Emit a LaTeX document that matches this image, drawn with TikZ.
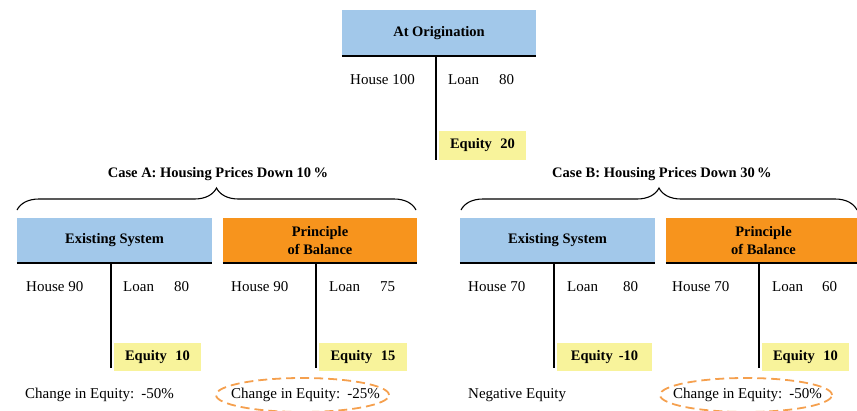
\documentclass[tikz,border=0pt]{standalone}
\usepackage{fontspec}
\setmainfont{Liberation Serif}
\usetikzlibrary{shapes.geometric,decorations.pathreplacing}
\definecolor{hdrblue}{HTML}{A2C8EA}
\definecolor{hdrorange}{HTML}{F7941D}
\definecolor{eqyellow}{HTML}{F8F39B}
\definecolor{ringorange}{HTML}{F5A04E}
\newcommand{\fsz}{\fontsize{14.5}{17.5}\selectfont}
\newcommand{\bodysz}{\fontsize{15}{18}\selectfont}
\tikzset{
  hdr/.style={minimum width=195pt, minimum height=45pt, inner sep=0pt,
              font=\bfseries\fsz, align=center},
  tbar/.style={line width=2.5pt},
  tstem/.style={line width=2.8pt},
  eqbox/.style={fill=eqyellow, minimum width=87pt, minimum height=28pt,
                inner sep=0pt, font=\bfseries\fsz},
  lbl/.style={font=\bodysz, inner sep=0pt, anchor=west},
  casehd/.style={font=\bfseries\fsz, inner sep=0pt},
  casebrace/.style={decorate, decoration={brace, amplitude=22pt}, line width=1.1pt},
  ring/.style={ellipse, draw=ringorange, dashed, dash pattern=on 9pt off 5pt,
               line width=1.8pt, minimum width=173pt, minimum height=34pt, inner sep=0pt}
}
\begin{document}
\begin{tikzpicture}[x=1pt,y=-1pt]
\useasboundingbox (0,0) rectangle (857,410);

% ---- at origination ----
\node[hdr, fill=hdrblue, minimum width=194pt, minimum height=46pt] (orig) at (439,33) {At Origination};
\draw[tbar] (orig.south west) -- (orig.south east);
\coordinate (so) at (436,56);
\coordinate (eo) at (436,160);
\draw[tstem] (so) -- (eo);
\node[eqbox, minimum height=29pt] (eqo) at (482.5,145.5) {Equity\hspace{8.5pt}20};
\node[lbl] (ho) at (350,80) {House 100};
\node[lbl] (lo) at (448,80) {Loan\hspace{20pt}80};

% ---- case headings and braces ----
\node[casehd] (ca) at (218,174) {Case A: Housing Prices Down 10\,\%};
\node[casehd] (cb) at (662,174) {Case B: Housing Prices Down 30\,\%};
\coordinate (bal) at (17,210);
\coordinate (bar) at (416,210);
\coordinate (bbl) at (461,210);
\coordinate (bbr) at (857,210);
\draw[casebrace] (bal) -- (bar);
\draw[casebrace] (bbl) -- (bbr);

% ---- case A, existing system ----
\node[hdr, fill=hdrblue] (a1) at (114.5,240.5) {Existing System};
\draw[tbar] (a1.south west) -- (a1.south east);
\coordinate (sa1) at (111,263);
\coordinate (ea1) at (111,368);
\draw[tstem] (sa1) -- (ea1);
\node[eqbox] (eqa1) at (157.5,357) {Equity\hspace{8.5pt}10};
\node[lbl] (ha1) at (26,287) {House 90};
\node[lbl] (la1) at (123,287) {Loan\hspace{20pt}80};
\node[lbl] (ca1) at (25,395) {Change in Equity:\hspace{7pt}-50\%};

% ---- case A, principle of balance ----
\node[hdr, fill=hdrorange, minimum width=194pt] (a2) at (320,240.5) {Principle\\of Balance};
\draw[tbar] (a2.south west) -- (a2.south east);
\coordinate (sa2) at (316,263);
\coordinate (ea2) at (316,368);
\draw[tstem] (sa2) -- (ea2);
\node[eqbox, minimum width=88pt] (eqa2) at (363,357) {Equity\hspace{8.5pt}15};
\node[lbl] (ha2) at (231,287) {House 90};
\node[lbl] (la2) at (329,287) {Loan\hspace{20pt}75};
\node[lbl] (ca2) at (231,395) {Change in Equity:\hspace{7pt}-25\%};
\node[ring] (ra2) at (302.5,395) {};

% ---- case B, existing system ----
\node[hdr, fill=hdrblue] (b1) at (557.5,240.5) {Existing System};
\draw[tbar] (b1.south west) -- (b1.south east);
\coordinate (sb1) at (554,263);
\coordinate (eb1) at (554,368);
\draw[tstem] (sb1) -- (eb1);
\node[eqbox, minimum width=95pt] (eqb1) at (604.5,357) {Equity\hspace{6pt}-10};
\node[lbl] (hb1) at (468,287) {House 70};
\node[lbl] (lb1) at (567,287) {Loan\hspace{25pt}80};
\node[lbl] (cb1) at (468,395) {Negative Equity};

% ---- case B, principle of balance ----
\node[hdr, fill=hdrorange] (b2) at (763.5,240.5) {Principle\\of Balance};
\draw[tbar] (b2.south west) -- (b2.south east);
\coordinate (sb2) at (759,263);
\coordinate (eb2) at (759,368);
\draw[tstem] (sb2) -- (eb2);
\node[eqbox] (eqb2) at (805.5,357) {Equity\hspace{8.5pt}10};
\node[lbl] (hb2) at (672,287) {House 70};
\node[lbl] (lb2) at (772,287) {Loan\hspace{19pt}60};
\node[lbl] (cb2) at (673,395) {Change in Equity:\hspace{7pt}-50\%};
\node[ring, minimum width=172pt] (rb2) at (746,395) {};
\end{tikzpicture}
\end{document}
